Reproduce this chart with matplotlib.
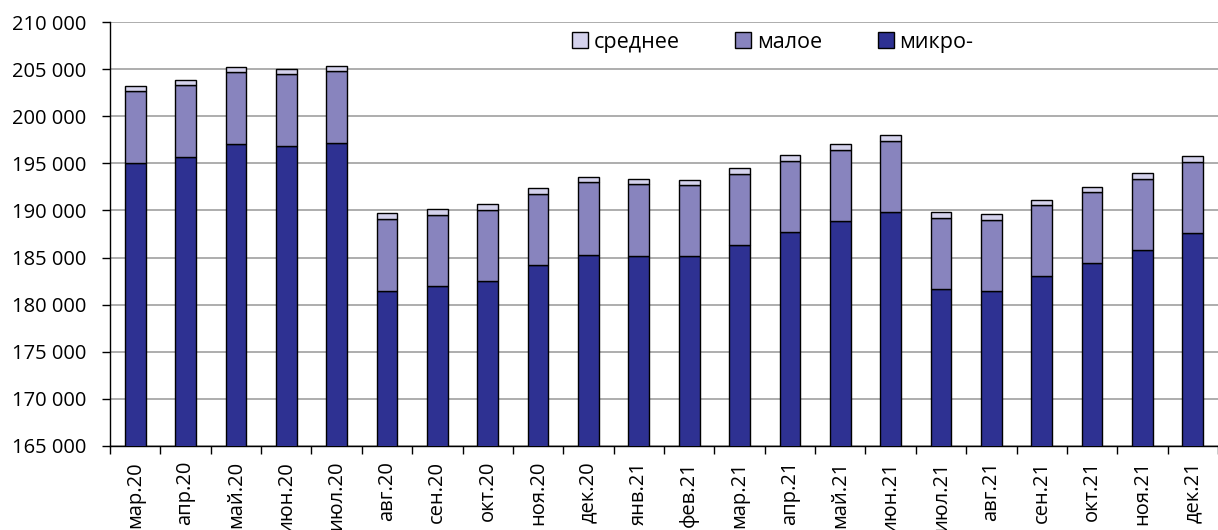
import numpy as np
import matplotlib
matplotlib.use("Agg")
import matplotlib.pyplot as plt
from matplotlib.ticker import FuncFormatter

# months
months = ["мар.20", "апр.20", "май.20", "июн.20", "июл.20", "авг.20", "сен.20",
          "окт.20", "ноя.20", "дек.20", "янв.21", "фев.21", "мар.21", "апр.21",
          "май.21", "июн.21", "июл.21", "авг.21", "сен.21", "окт.21", "ноя.21",
          "дек.21"]

# number of enterprises by size
micro = [195050, 195670, 197060, 196810, 197200, 181490, 181980, 182510, 184180,
         185320, 185180, 185110, 186350, 187660, 188900, 189860, 181660, 181490,
         183010, 184400, 185850, 187590]
small = [7610, 7700, 7620, 7660, 7590, 7620, 7590, 7590, 7600, 7660, 7620, 7550,
         7550, 7550, 7480, 7480, 7560, 7550, 7520, 7520, 7520, 7520]
medium = [610, 530, 610, 570, 570, 640, 610, 570, 560, 570, 570, 570, 600, 640,
          640, 640, 600, 570, 570, 560, 600, 630]

plt.rcParams['font.family'] = ['Open Sans', 'DejaVu Sans']

fig = plt.figure(figsize=(12.18, 5.30), dpi=100)
ax = fig.add_axes([110 / 1218, 84.3 / 530, 1108 / 1218, 423.4 / 530])

x = np.arange(len(months))
micro = np.array(micro)
small = np.array(small)
medium = np.array(medium)
w = 0.41

b1 = ax.bar(x, micro, w, bottom=0, color="#2e3192", edgecolor="black", linewidth=1, zorder=3)
b2 = ax.bar(x, small, w, bottom=micro, color="#8884be", edgecolor="black", linewidth=1, zorder=3)
b3 = ax.bar(x, medium, w, bottom=micro + small, color="#d4d2ec", edgecolor="black", linewidth=1, zorder=3)

ax.set_ylim(165000, 210000)
ax.set_xlim(-0.5, 21.4)
ax.set_yticks(np.arange(165000, 210001, 5000))
ax.yaxis.set_major_formatter(FuncFormatter(lambda v, p: f"{int(v):,}".replace(",", " ")))
ax.yaxis.grid(True, color="#a0a0a0", linewidth=1.2, zorder=0)

ax.set_xticks(x)
ax.set_xticklabels(months, rotation=90, va="top", ha="center")
ax.set_xticks(np.arange(-0.5, 22, 1), minor=True)
ax.tick_params(axis="x", which="major", length=0, pad=11, labelsize=14.5)
ax.tick_params(axis="x", which="minor", length=6, width=1, direction="out")
ax.tick_params(axis="y", length=6, width=1, labelsize=14.5, pad=11)

for s in ["top", "right"]:
    ax.spines[s].set_visible(False)
ax.spines["left"].set_linewidth(1)
ax.spines["bottom"].set_linewidth(1)

ax.legend([b3, b2, b1], ["среднее", "малое", "микро-"], ncol=3, frameon=False,
          loc="center", bbox_to_anchor=(0.598, 0.953), fontsize=15.5,
          handlelength=0.75, handleheight=0.75, handletextpad=0.25, columnspacing=2.6)

fig.savefig("out.png", dpi=100)
